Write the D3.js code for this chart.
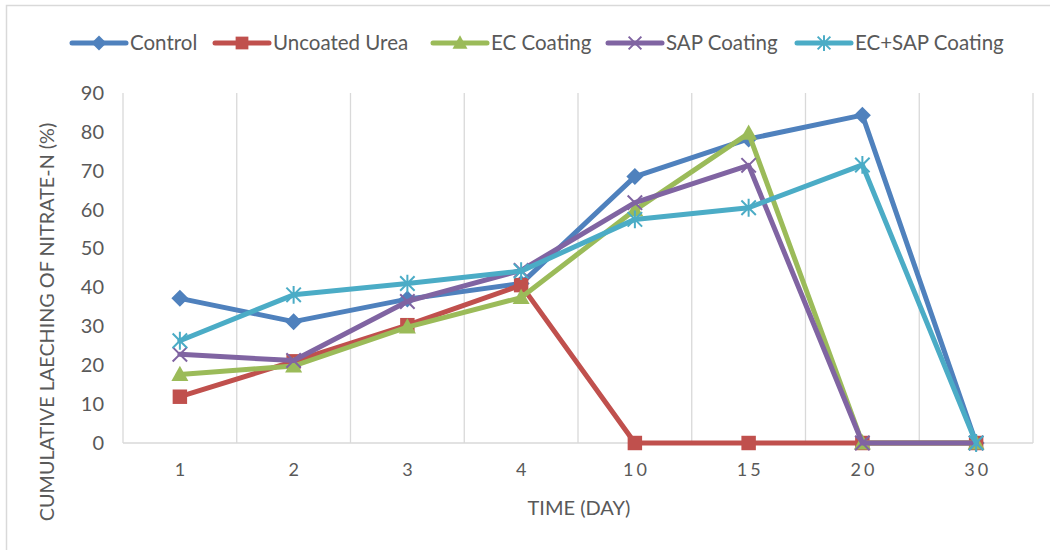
<!DOCTYPE html>
<html><head><meta charset="utf-8">
<script src="https://cdn.jsdelivr.net/npm/d3@7/dist/d3.min.js"></script>
<style>body{margin:0;background:#fff}</style>
</head><body><svg id="c" width="1050" height="550"></svg>
<script>
const categories = ["1","2","3","4","10","15","20","30"];
const seriesNames = ["Control","Uncoated Urea","EC Coating","SAP Coating","EC+SAP Coating"];
const control = [37.2,31.2,37.0,41.0,68.5,78.2,84.3,0];
const uncoated = [11.9,21.0,30.3,40.6,0,0,0,0];
const ecCoating = [17.6,19.8,29.8,37.4,59.9,79.6,0,0];
const sapCoating = [22.8,21.2,36.4,44.4,61.8,71.4,0,0];
const ecSapCoating = [26.3,38.1,41.0,44.2,57.5,60.5,71.5,0];
const yTicks = [0,10,20,30,40,50,60,70,80,90];
const colors = ["#4F81BD","#C0504D","#9BBB59","#8064A2","#4BACC6"];
const markers = ["diamond","square","triangle","x","star"];
const allSeries = [control,uncoated,ecCoating,sapCoating,ecSapCoating];

const svg = d3.select("#c");
const font = "Lato, 'Liberation Sans', sans-serif";
svg.append("rect").attr("x",6.5).attr("y",5.5).attr("width",1100).attr("height",600)
  .attr("fill","#fff").attr("stroke","#d9d9d9").attr("stroke-width",1.5);

const L=123, R=1033, T=93, B=443;
const x = d3.scaleBand().domain(categories).range([L,R]);
const y = d3.scaleLinear().domain([0,90]).range([B,T]);

const bounds = categories.map(c=>x(c)).concat([R]);
svg.append("g").selectAll("line").data(bounds).join("line")
  .attr("x1",d=>d).attr("x2",d=>d).attr("y1",T).attr("y2",B)
  .attr("stroke","#d9d9d9").attr("stroke-width",1.3);
svg.append("line").attr("x1",L).attr("x2",R).attr("y1",B).attr("y2",B)
  .attr("stroke","#d9d9d9").attr("stroke-width",1.5);

const yAxis = d3.axisLeft(y).tickValues(yTicks).tickSize(0).tickPadding(0);
const gy = svg.append("g").attr("transform",`translate(104,0)`).call(yAxis);
gy.select(".domain").remove();
gy.selectAll("text").attr("font-family",font).attr("font-size",20).attr("fill","#595959");

const xAxis = d3.axisBottom(x).tickSize(0).tickPadding(0);
const gx = svg.append("g").attr("transform",`translate(0,463)`).call(xAxis);
gx.select(".domain").remove();
gx.selectAll("text").attr("font-family",font).attr("font-size",18).attr("fill","#595959")
  .attr("letter-spacing",3).attr("dx",1.5);

svg.append("text").attr("x",579).attr("y",515).attr("text-anchor","middle")
  .attr("font-family",font).attr("font-size",20).attr("fill","#595959").text("TIME (DAY)");
svg.append("text").attr("transform","translate(54,322) rotate(-90)").attr("text-anchor","middle")
  .attr("font-family",font).attr("font-size",19.8).attr("fill","#595959").text("CUMULATIVE LAECHING OF NITRATE-N (%)");

function drawMarker(g, type, cx, cy, color, s){
  if(type==="diamond"){
    g.append("path").attr("d",`M${cx},${cy-s}L${cx+s},${cy}L${cx},${cy+s}L${cx-s},${cy}Z`).attr("fill",color);
  } else if(type==="square"){
    g.append("rect").attr("x",cx-s*0.85).attr("y",cy-s*0.85).attr("width",s*1.7).attr("height",s*1.7).attr("fill",color);
  } else if(type==="triangle"){
    g.append("path").attr("d",`M${cx},${cy-s*1.05}L${cx+s},${cy+s*0.75}L${cx-s},${cy+s*0.75}Z`).attr("fill",color);
  } else if(type==="x"){
    const a=s*0.85;
    g.append("path").attr("d",`M${cx-a},${cy-a}L${cx+a},${cy+a}M${cx-a},${cy+a}L${cx+a},${cy-a}`)
      .attr("stroke",color).attr("stroke-width",2).attr("fill","none");
  } else if(type==="star"){
    const a=s*0.85;
    g.append("path").attr("d",`M${cx-a},${cy-a}L${cx+a},${cy+a}M${cx-a},${cy+a}L${cx+a},${cy-a}M${cx},${cy-s*1.05}L${cx},${cy+s*1.05}`)
      .attr("stroke",color).attr("stroke-width",2).attr("fill","none");
  }
}

const line = d3.line().x((d,i)=>x(categories[i])+x.bandwidth()/2).y(d=>y(d));
allSeries.forEach((vals,si)=>{
  const g = svg.append("g");
  g.append("path").datum(vals).attr("d",line).attr("fill","none")
    .attr("stroke",colors[si]).attr("stroke-width",5).attr("stroke-linejoin","round").attr("stroke-linecap","round");
  vals.forEach((v,i)=>drawMarker(g,markers[si],x(categories[i])+x.bandwidth()/2,y(v),colors[si],8.5));
});

const legX = [72,215,433,608,797];
const leg = svg.append("g");
seriesNames.forEach((n,i)=>{
  const g = leg.append("g");
  g.append("line").attr("x1",legX[i]).attr("x2",legX[i]+54).attr("y1",43).attr("y2",43)
    .attr("stroke",colors[i]).attr("stroke-width",5).attr("stroke-linecap","round");
  drawMarker(g,markers[i],legX[i]+27,43,colors[i],7.5);
  g.append("text").attr("x",legX[i]+58).attr("y",50).attr("font-family",font).attr("font-size",20.5)
    .attr("fill","#595959").text(n);
});
</script></body></html>
